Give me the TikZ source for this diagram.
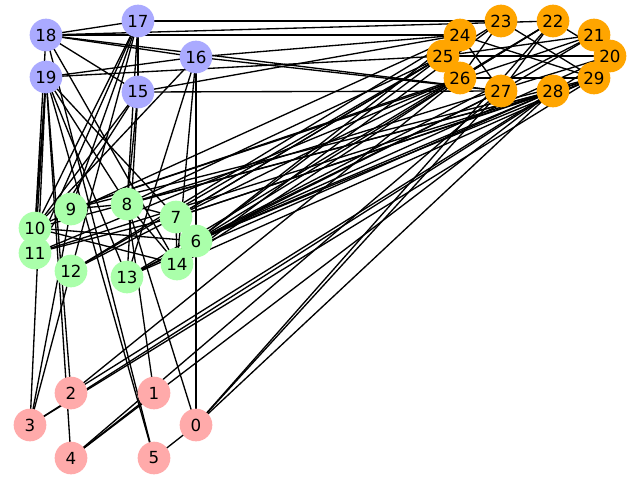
\documentclass[tikz,border=0pt]{standalone}
\usepackage{fontspec}
\setmainfont{DejaVu Sans}
\usetikzlibrary{backgrounds}
\definecolor{cpink}{HTML}{FFAAAA}
\definecolor{cgreen}{HTML}{AAFFAA}
\definecolor{cblue}{HTML}{AAAAFF}
\definecolor{corange}{HTML}{FFA500}
\tikzset{
  vtx/.style={circle, minimum size=24.5pt, inner sep=0pt, font=\fontsize{12.5}{12.5}\selectfont},
  pinkv/.style={vtx, fill=cpink},
  greenv/.style={vtx, fill=cgreen},
  bluev/.style={vtx, fill=cblue},
  orangev/.style={vtx, fill=corange},
  edge/.style={draw=black, line width=1pt}
}
\begin{document}
\begin{tikzpicture}[x=0.75pt, y=-0.75pt]
\useasboundingbox (0,0) rectangle (640,480);
% pink
\node[pinkv] (n0) at (196,425) {0};
\node[pinkv] (n1) at (154,393) {1};
\node[pinkv] (n2) at (71,393) {2};
\node[pinkv] (n3) at (30,425) {3};
\node[pinkv] (n4) at (71,458) {4};
\node[pinkv] (n5) at (154,458) {5};
% green
\node[greenv] (n6) at (196,241) {6};
\node[greenv] (n7) at (176,217) {7};
\node[greenv] (n8) at (127,204) {8};
\node[greenv] (n9) at (71,209) {9};
\node[greenv] (n10) at (35,228) {10};
\node[greenv] (n11) at (35,253) {11};
\node[greenv] (n12) at (71,271) {12};
\node[greenv] (n13) at (127,277) {13};
\node[greenv] (n14) at (177,264) {14};
% blue
\node[bluev] (n15) at (138,92) {15};
\node[bluev] (n16) at (196,57) {16};
\node[bluev] (n17) at (138,21) {17};
\node[bluev] (n18) at (46,35) {18};
\node[bluev] (n19) at (46,77) {19};
% orange
\node[orangev] (n20) at (610,56) {20};
\node[orangev] (n21) at (594,35) {21};
\node[orangev] (n22) at (553,21) {22};
\node[orangev] (n23) at (501,21) {23};
\node[orangev] (n24) at (460,35) {24};
\node[orangev] (n25) at (443,56) {25};
\node[orangev] (n26) at (460,78) {26};
\node[orangev] (n27) at (501,91) {27};
\node[orangev] (n28) at (553,91) {28};
\node[orangev] (n29) at (594,78) {29};
\begin{pgfonlayer}{background}
\fill[white] (0,0) rectangle (640,480);
\foreach \a/\b in {0/5,0/8,0/16,0/22,0/27,0/28,
  1/8,1/4,
  2/19,2/26,2/28,
  3/19,3/12,3/9,3/29,3/20,
  4/19,4/27,4/28,
  5/18,5/19,
  16/14,16/10,16/13,
  15/10,15/8,15/13,15/11,
  17/15,17/8,17/9,17/10,17/11,17/12,
  18/15,18/16,18/17,18/14,18/27,18/22,18/24,18/10,
  19/10,19/11,19/13,19/8,19/7,19/16,19/25,
  17/23,16/24,16/27,15/24,15/27,
  6/20,6/21,6/22,6/24,6/25,6/27,6/28,6/29,
  7/23,7/25,7/26,7/28,7/29,
  8/20,8/25,8/28,
  9/26,9/29,9/21,
  10/24,10/28,
  11/26,11/29,
  12/24,12/25,
  13/22,13/27,13/28,
  14/23,14/26,14/29,
  7/14,8/14,8/7,10/14,11/7,12/7,9/8,10/6,13/6,
  24/27,23/26,25/20,22/20,22/26,21/25,23/29,24/29,21/27,26/29,22/27}
  \draw[edge] (n\a.center) -- (n\b.center);
\end{pgfonlayer}
\end{tikzpicture}
\end{document}
